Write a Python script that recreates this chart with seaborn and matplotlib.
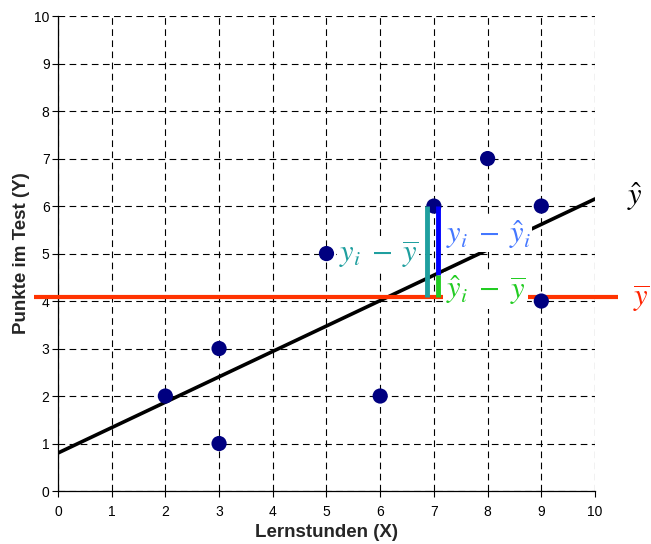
import matplotlib
matplotlib.use("Agg")
import matplotlib.pyplot as plt
import seaborn as sns
import numpy as np
import pandas as pd

# Data
lernstunden = [2, 3, 3, 5, 6, 7, 8, 9, 9]
punkte = [2, 3, 1, 5, 2, 6, 7, 6, 4]
reg_intercept = 0.8
reg_slope = 0.535
y_mean = 4.08
highlight_idx = 5  # point (7, 6)

x_ticks = list(range(0, 11))
y_ticks = list(range(0, 11))

df = pd.DataFrame({"Lernstunden (X)": lernstunden, "Punkte im Test (Y)": punkte})

sns.set_style("white")
plt.rcParams["font.family"] = ["Liberation Sans", "DejaVu Sans"]
plt.rcParams["mathtext.fontset"] = "stix"

fig = plt.figure(figsize=(6.51, 5.44), dpi=100)
ax = fig.add_axes([0.089, 0.0974, 0.825, 0.873])

ax.set_xlim(0, 10)
ax.set_ylim(0, 10)
ax.set_xticks(x_ticks)
ax.set_yticks(y_ticks)
ax.grid(True, color="black", linestyle=(0, (6, 4)), linewidth=0.8)
ax.set_axisbelow(True)
for s in ["top", "right"]:
    ax.spines[s].set_visible(False)
for s in ["left", "bottom"]:
    ax.spines[s].set_color("black")
    ax.spines[s].set_linewidth(0.9)
ax.tick_params(axis="both", direction="out", length=4, width=0.8, labelsize=10,
               colors="black", left=True, bottom=True)
ax.tick_params(axis="x", pad=6)
ax.tick_params(axis="y", pad=2)

# Regression line
xr = np.array([0, 10])
ax.plot(xr, reg_intercept + reg_slope * xr, color="black", lw=2.6, zorder=3)

# Mean line (two segments, extending beyond axes)
xi = lernstunden[highlight_idx]
yi = punkte[highlight_idx]
yhat_i = reg_intercept + reg_slope * xi
ax.plot([-0.45, xi + 0.17], [y_mean, y_mean], color="#ff3300", lw=3.0,
        clip_on=False, zorder=3, solid_capstyle="butt")
ax.plot([8.75, 10.42], [y_mean, y_mean], color="#ff3300", lw=3.0,
        clip_on=False, zorder=3, solid_capstyle="butt")

# Deviation bars
ax.plot([xi - 0.13, xi - 0.13], [y_mean, yi], color="#1f9f9f", lw=3.5,
        zorder=5, solid_capstyle="butt")
ax.plot([xi + 0.08, xi + 0.08], [yhat_i, yi], color="#0000ff", lw=3.5,
        zorder=5, solid_capstyle="butt")
ax.plot([xi + 0.08, xi + 0.08], [y_mean, yhat_i], color="#22cc22", lw=3.5,
        zorder=5, solid_capstyle="butt")

# Scatter points
sns.scatterplot(data=df, x="Lernstunden (X)", y="Punkte im Test (Y)", ax=ax,
                color="#000080", s=120, edgecolor="none", zorder=4, clip_on=False)

ax.set_xlabel("Lernstunden (X)", fontsize=13.5, fontweight="bold", labelpad=4)
ax.set_ylabel("Punkte im Test (Y)", fontsize=13.5, fontweight="bold", labelpad=3)

# Labels
box = dict(facecolor="white", edgecolor="none", pad=1)
fs = 22
ax.text(6.7, 4.98, r"$y_i\;-\;\overline{y}$", color="#1f9f9f", fontsize=fs,
        ha="right", va="center", bbox=box, zorder=6)
ax.text(7.22, 5.4, r"$y_i\;-\;\hat{y}_i$", color="#4477ff", fontsize=fs,
        ha="left", va="center", bbox=box, zorder=6)
ax.text(7.22, 4.22, r"$\hat{y}_i\;-\;\overline{y}$", color="#22cc22", fontsize=fs,
        ha="left", va="center", bbox=box, zorder=6)
ax.text(10.6, 6.2, r"$\hat{y}$", color="black", fontsize=fs,
        ha="left", va="center", clip_on=False)
ax.text(10.7, 4.04, r"$\overline{y}$", color="#ff2200", fontsize=fs,
        ha="left", va="center", clip_on=False)

fig.savefig("out.png", dpi=100)
